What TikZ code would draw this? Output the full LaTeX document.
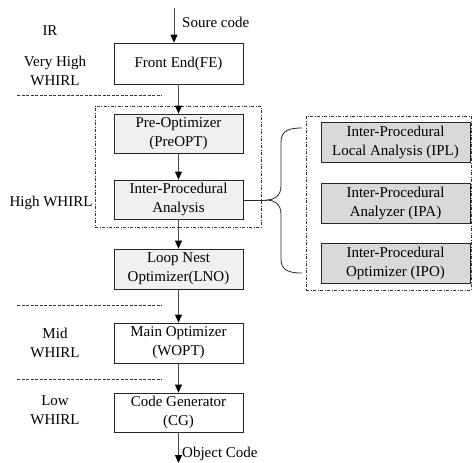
\documentclass[tikz,border=0pt]{standalone}
\usepackage{fontspec}
\setmainfont{Liberation Serif}
\usetikzlibrary{arrows.meta}
\definecolor{lightbox}{HTML}{F0F0F0}
\definecolor{darkbox}{HTML}{D9D9D9}
\begin{document}
\begin{tikzpicture}[x=1pt,y=-1pt,
  font=\fontsize{15}{19}\selectfont,
  box/.style={draw=black!85, line width=0.8pt, rectangle, align=center, inner sep=0pt, minimum width=129pt},
  arr/.style={draw=black!70, line width=0.9pt, -{Triangle[length=8pt,width=7pt,color=black]}},
  grp/.style={draw=black!80, line width=0.6pt, dash pattern=on 3pt off 1.5pt on 1pt off 1.5pt, rectangle, inner sep=0pt},
  sep/.style={draw=black!80, line width=0.6pt, dash pattern=on 3pt off 1.5pt},
  lbl/.style={align=center, inner sep=0pt}]
\useasboundingbox (0,0) rectangle (472,463);
% main column
\node[box, minimum height=41pt] (fe) at (178.5,63.5) {Front End(FE)};
\node[box, fill=lightbox, minimum height=39pt] (preopt) at (178.5,133.5) {Pre-Optimizer\\(PreOPT)};
\node[box, fill=lightbox, minimum height=39pt] (ipa) at (178.5,199.5) {Inter-Procedural\\Analysis};
\node[box, fill=lightbox, minimum height=40pt] (lno) at (178.5,269) {Loop Nest\\Optimizer(LNO)};
\node[box, minimum height=40pt] (wopt) at (178.5,343) {Main Optimizer\\(WOPT)};
\node[box, minimum height=39pt] (cg) at (178.5,412.5) {Code Generator\\(CG)};
% group boxes
\node[grp, minimum width=166pt, minimum height=121pt] (hgrp) at (178,166.5) {};
\node[grp, minimum width=165pt, minimum height=174pt] (rgrp) at (388.5,203) {};
% right boxes
\node[box, fill=darkbox, minimum width=149pt, minimum height=40pt] (ipl) at (395.5,142) {Inter-Procedural\\Local Analysis (IPL)};
\node[box, fill=darkbox, minimum width=149pt, minimum height=40pt] (ipa2) at (395.5,203) {Inter-Procedural\\Analyzer (IPA)};
\node[box, fill=darkbox, minimum width=149pt, minimum height=40pt] (ipo) at (395.5,263) {Inter-Procedural\\Optimizer (IPO)};
% left labels
\node[lbl] (ir) at (50,31) {IR};
\node[lbl] (vh) at (55,70.5) {Very High\\WHIRL};
\node[lbl] (hw) at (51,203) {High WHIRL};
\node[lbl] (mw) at (55,343) {Mid\\WHIRL};
\node[lbl] (lw) at (55,410.5) {Low\\WHIRL};
% separators
\coordinate (s1a) at (17,95); \coordinate (s1b) at (162,95);
\coordinate (s2a) at (17,305); \coordinate (s2b) at (162,305);
\coordinate (s3a) at (17,379); \coordinate (s3b) at (162,379);
\draw[sep] (s1a) -- (s1b);
\draw[sep] (s2a) -- (s2b);
\draw[sep] (s3a) -- (s3b);
% arrows
\coordinate (src) at (174,8);
\node[lbl, anchor=west] (srct) at (182,22) {Soure code};
\draw[arr] (src) -- (src |- fe.north);
\draw[arr] (fe.south) -- (preopt.north);
\draw[arr] (preopt.south) -- (ipa.north);
\draw[arr] (ipa.south) -- (lno.north);
\draw[arr] (lno.south) -- (wopt.north);
\draw[arr] (wopt.south) -- (cg.north);
\coordinate (obj) at (178.5,463);
\draw[arr] (cg.south) -- (obj);
\node[lbl, anchor=west] (objt) at (182,454) {Object Code};
% brace
\coordinate (bt) at (267,200);
\draw[black!85, line width=0.8pt] (ipa.east |- bt) -- (bt);
\draw[black!85, line width=0.8pt] (302,128) .. controls (290,128) and (281,130) .. (281,142)
  -- (281,186) .. controls (281,196) and (274,200) .. (bt)
  .. controls (274,200) and (281,204) .. (281,214)
  -- (281,259) .. controls (281,271) and (290,273) .. (302,273);
\end{tikzpicture}
\end{document}
